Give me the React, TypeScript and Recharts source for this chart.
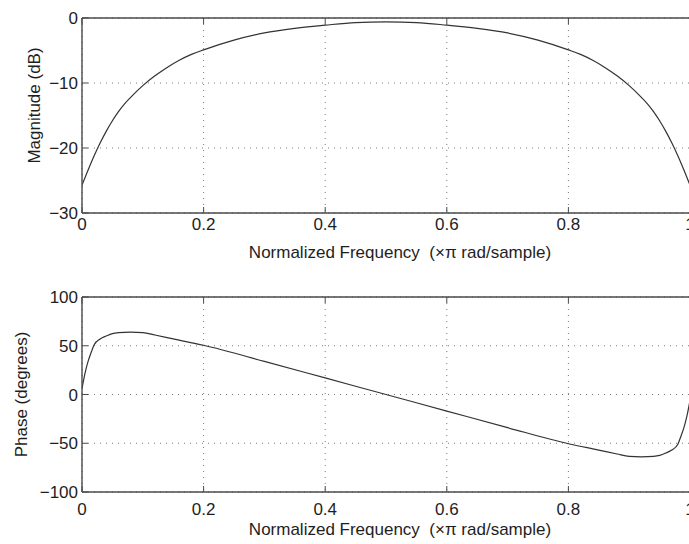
import React from "react";
import {
  LineChart,
  Line,
  XAxis,
  YAxis,
  CartesianGrid,
  Label,
  ReferenceLine,
} from "recharts";

// ---- data ----
const magFreq = [
  0, 0.01, 0.02, 0.03, 0.04, 0.05, 0.06, 0.07, 0.08, 0.1, 0.12, 0.14, 0.16,
  0.18, 0.2, 0.25, 0.3, 0.35, 0.4, 0.45, 0.5, 0.55, 0.6, 0.65, 0.7, 0.75, 0.8,
  0.82, 0.84, 0.86, 0.88, 0.9, 0.92, 0.93, 0.94, 0.95, 0.96, 0.97, 0.98, 0.99,
  1.0,
];
const magnitudeDb = [
  -25.7, -23.4, -21.2, -19.2, -17.4, -15.8, -14.4, -13.2, -12.2, -10.4, -8.9,
  -7.6, -6.5, -5.6, -4.9, -3.4, -2.3, -1.6, -1.1, -0.7, -0.6, -0.7, -1.1, -1.6,
  -2.3, -3.4, -4.9, -5.6, -6.5, -7.6, -8.9, -10.4, -12.2, -13.2, -14.4, -15.8,
  -17.4, -19.2, -21.2, -23.4, -25.7,
];

const phaseFreq = [
  0, 0.005, 0.01, 0.015, 0.02, 0.03, 0.04, 0.05, 0.06, 0.08, 0.1, 0.12, 0.15,
  0.2, 0.3, 0.4, 0.5, 0.6, 0.7, 0.8, 0.85, 0.88, 0.9, 0.92, 0.94, 0.95, 0.96,
  0.97, 0.98, 0.985, 0.99, 0.995, 1.0,
];
const phaseDeg = [
  6, 22, 34, 43, 51, 57, 60, 62.5, 63.5, 64, 63.5, 61, 57, 50.5, 34, 17, 0,
  -17, -34, -50.5, -57, -61, -63.5, -64, -63.5, -62.5, -60, -57, -51, -43, -34,
  -22, -6,
];

const freqTicks = [0, 0.2, 0.4, 0.6, 0.8, 1];
const magTicks = [-30, -20, -10, 0];
const phaseTicks = [-100, -50, 0, 50, 100];

const xTitle = "Normalized Frequency  (\u00D7\u03C0 rad/sample)";
const magTitle = "Magnitude (dB)";
const phaseTitle = "Phase (degrees)";

const magData = magFreq.map((f, i) => ({ f, v: magnitudeDb[i] }));
const phaseData = phaseFreq.map((f, i) => ({ f, v: phaseDeg[i] }));

// ---- styles ----
const FONT = "'Liberation Sans', Arial, Helvetica, sans-serif";
const FS = 17;
const TEXT = "#1e1e1e";
const AXIS = "#4a4a4a";
const CURVE = "#333333";
const TICK_LEN = 6;

const fmtNum = (v: number) => {
  const s = String(Math.round(v * 1000) / 1000);
  return s.startsWith("-") ? "\u2212" + s.slice(1) : s;
};

const makeBottomTick = (labelDy: number) => (props: any) => {
  const { x, y, payload } = props;
  return (
    <g>
      <line x1={x} x2={x} y1={y} y2={y - TICK_LEN} stroke={AXIS} strokeWidth={1} />
      <text
        x={x}
        y={y + labelDy}
        textAnchor="middle"
        fontSize={FS}
        fontFamily={FONT}
        fill={TEXT}
      >
        {fmtNum(payload.value)}
      </text>
    </g>
  );
};

const TopTick = (props: any) => {
  const { x, y } = props;
  return <line x1={x} x2={x} y1={y} y2={y + TICK_LEN} stroke={AXIS} strokeWidth={1} />;
};

const LeftTick = (props: any) => {
  const { x, y, payload } = props;
  return (
    <g>
      <line x1={x} x2={x + TICK_LEN} y1={y} y2={y} stroke={AXIS} strokeWidth={1} />
      <text
        x={x - 4}
        y={y + 6}
        textAnchor="end"
        fontSize={FS}
        fontFamily={FONT}
        fill={TEXT}
      >
        {fmtNum(payload.value)}
      </text>
    </g>
  );
};

const RightTick = (props: any) => {
  const { x, y } = props;
  return <line x1={x - TICK_LEN} x2={x} y1={y} y2={y} stroke={AXIS} strokeWidth={1} />;
};

const makeXTitle = (baseDy: number, dx: number) => (props: any) => {
  const vb = props.viewBox || {};
  const cx = vb.x + vb.width / 2 + dx;
  return (
    <text
      x={cx}
      y={vb.y + baseDy}
      textAnchor="middle"
      fontSize={FS}
      fontFamily={FONT}
      fill={TEXT}
      style={{ whiteSpace: "pre" }}
    >
      {xTitle}
    </text>
  );
};

const makeYTitle = (text: string, baseX: number, dy: number) => (props: any) => {
  const vb = props.viewBox || {};
  const cy = vb.y + vb.height / 2 + dy;
  return (
    <text
      transform={`translate(${baseX} ${cy}) rotate(-90)`}
      x={0}
      y={0}
      textAnchor="middle"
      fontSize={FS}
      fontFamily={FONT}
      fill={TEXT}
    >
      {text}
    </text>
  );
};

type PanelProps = {
  data: { f: number; v: number }[];
  yTicks: number[];
  yDomain: [number, number];
  top: number;
  height: number;
  marginTop: number;
  xAxisHeight: number;
  tickDy: number;
  titleDy: number;
  yTitle: string;
  yTitleX: number;
  yTitleDy: number;
};

const Panel = (p: PanelProps) => (
  <div style={{ position: "absolute", left: 0, top: p.top }}>
    <LineChart
      width={691}
      height={p.height}
      data={p.data}
      margin={{ top: p.marginTop - 1, right: 0, bottom: 0, left: 0 }}
    >
      <CartesianGrid stroke="#7a7a7a" strokeDasharray="1 5" strokeWidth={1} />
      <XAxis
        dataKey="f"
        type="number"
        domain={[0, 1]}
        ticks={freqTicks}
        interval={0}
        height={p.xAxisHeight}
        tickSize={0}
        tickMargin={0}
        tickLine={false}
        axisLine={{ stroke: AXIS, strokeWidth: 1.6 }}
        tick={makeBottomTick(p.tickDy)}
        allowDataOverflow
      >
        <Label content={makeXTitle(p.titleDy, 14)} />
      </XAxis>
      <XAxis
        xAxisId="top"
        dataKey="f"
        orientation="top"
        type="number"
        domain={[0, 1]}
        ticks={freqTicks}
        interval={0}
        height={1}
        tickSize={0}
        tickMargin={0}
        tickLine={false}
        axisLine={false}
        tick={TopTick}
      />
      <YAxis
        type="number"
        domain={p.yDomain}
        ticks={p.yTicks}
        interval={0}
        width={82}
        tickSize={0}
        tickMargin={0}
        tickLine={false}
        axisLine={{ stroke: AXIS, strokeWidth: 1.4 }}
        tick={LeftTick}
        allowDataOverflow
      >
        <Label content={makeYTitle(p.yTitle, p.yTitleX, p.yTitleDy)} />
      </YAxis>
      <YAxis
        yAxisId="right"
        orientation="right"
        type="number"
        domain={p.yDomain}
        ticks={p.yTicks}
        interval={0}
        width={1}
        tickSize={0}
        tickMargin={0}
        tickLine={false}
        axisLine={false}
        tick={RightTick}
      />
      <ReferenceLine y={p.yDomain[1]} stroke={AXIS} strokeWidth={1.6} />
      <ReferenceLine x={1} stroke={AXIS} strokeWidth={1.4} />
      <Line
        type="monotone"
        dataKey="v"
        stroke={CURVE}
        strokeWidth={1.2}
        dot={false}
        activeDot={false}
        isAnimationActive={false}
      />
    </LineChart>
  </div>
);

export default function App() {
  return (
    <div
      style={{
        position: "absolute",
        left: 0,
        top: 0,
        width: 689,
        height: 544,
        overflow: "hidden",
        background: "#ffffff",
      }}
    >
      <Panel
        data={magData}
        yTicks={magTicks}
        yDomain={[-30, 0]}
        top={0}
        height={272}
        marginTop={18}
        xAxisHeight={59}
        tickDy={17}
        titleDy={45}
        yTitle={magTitle}
        yTitleX={40}
        yTitleDy={-10}
      />
      <Panel
        data={phaseData}
        yTicks={phaseTicks}
        yDomain={[-100, 100]}
        top={272}
        height={272}
        marginTop={25}
        xAxisHeight={52}
        tickDy={23}
        titleDy={43}
        yTitle={phaseTitle}
        yTitleX={27}
        yTitleDy={0}
      />
    </div>
  );
}
